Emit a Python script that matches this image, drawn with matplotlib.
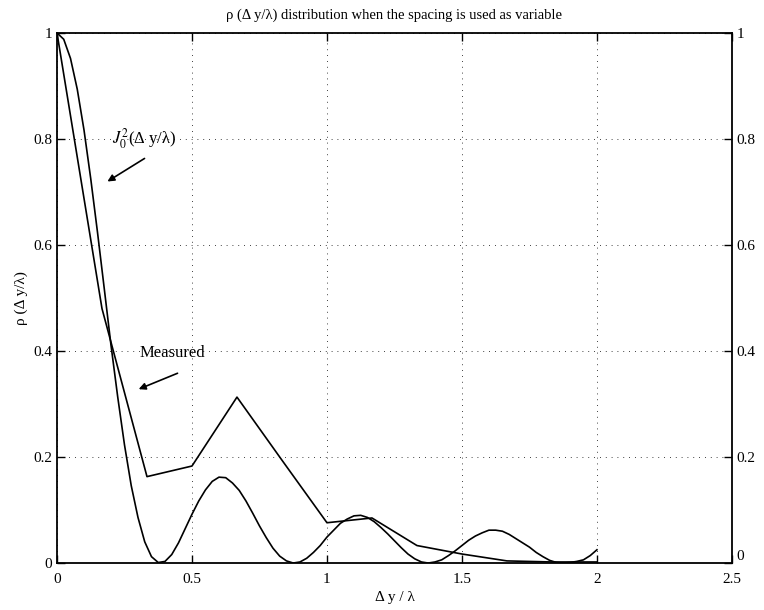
import numpy as np
import matplotlib
matplotlib.use("Agg")
import matplotlib.pyplot as plt

plt.rcParams.update({
    'font.family': ['Liberation Serif', 'DejaVu Serif'],
    'mathtext.fontset': 'stix',
    'font.size': 10,
})

# J0^2 curve at steps of 0.025
j0_x = [i * 0.025 for i in range(81)]
j0_y = [1.000, 0.988, 0.952, 0.894, 0.817, 0.725, 0.624, 0.518, 0.411, 0.313,
        0.223, 0.146, 0.086, 0.040, 0.012, 0.001, 0.003, 0.016, 0.038, 0.065,
        0.092, 0.117, 0.138, 0.154, 0.162, 0.161, 0.151, 0.137, 0.117, 0.094,
        0.070, 0.048, 0.028, 0.013, 0.004, 0.000, 0.002, 0.009, 0.020, 0.033,
        0.049, 0.062, 0.075, 0.083, 0.089, 0.090, 0.086, 0.078, 0.067, 0.055,
        0.042, 0.029, 0.017, 0.008, 0.002, 0.000, 0.002, 0.006, 0.014, 0.023,
        0.033, 0.043, 0.051, 0.057, 0.062, 0.062, 0.060, 0.054, 0.046, 0.038,
        0.030, 0.020, 0.012, 0.005, 0.001, 0.000, 0.001, 0.003, 0.006, 0.014,
        0.025]

# measured values
meas_x = [0, 1/6, 1/3, 1/2, 2/3, 5/6, 1, 7/6, 4/3, 3/2, 5/3, 11/6, 2]
meas_y = [1.0, 0.48, 0.163, 0.183, 0.313, 0.194, 0.076, 0.085, 0.033, 0.017, 0.004, 0.002, 0.002]

xticks = [0, 0.5, 1, 1.5, 2, 2.5]
xtick_labels = ['0', '0.5', '1', '1.5', '2', '2.5']
yticks = [0, 0.2, 0.4, 0.6, 0.8, 1]
ytick_labels = ['0', '0.2', '0.4', '0.6', '0.8', '1']

fig = plt.figure(figsize=(7.64, 6.10), dpi=100)
ax = fig.add_axes((0.0746, 0.077, 0.8834, 0.869))

ax.plot(j0_x, j0_y, color='black', lw=1.2)
ax.plot(meas_x, meas_y, color='black', lw=1.2)

ax.set_xlim(0, 2.5)
ax.set_ylim(0, 1)
ax.set_xticks(xticks)
ax.set_xticklabels(xtick_labels)
ax.set_yticks(yticks)
ax.set_yticklabels(ytick_labels)
ax.tick_params(direction='in', top=True, right=True, labelright=True,
               length=6, width=1, labelsize=11)
ax.tick_params(axis='x', pad=7)
ax.grid(True, color='black', linestyle=(0, (1, 6)), linewidth=0.6)
for s in ax.spines.values():
    s.set_linewidth(1.3)

# right-hand "0" sits a little above the corner, as in the scan
ax.yaxis.get_major_ticks()[0].label2.set_verticalalignment('bottom')

ax.set_title('ρ (Δ y/λ) distribution when the spacing is used as variable',
             fontsize=10.5, pad=10)
ax.set_xlabel('Δ y / λ', fontsize=11, labelpad=4)
ax.set_ylabel('ρ (Δ y/λ)', fontsize=11, labelpad=4)

ax.annotate('', xy=(0.178, 0.717), xytext=(0.333, 0.766),
            arrowprops=dict(arrowstyle='-|>', color='black', lw=1.2,
                            mutation_scale=10))
ax.text(0.205, 0.80, r'$J_0^2$(Δ y/λ)', fontsize=12, va='center', ha='left')
ax.annotate('', xy=(0.293, 0.326), xytext=(0.456, 0.360),
            arrowprops=dict(arrowstyle='-|>', color='black', lw=1.2,
                            mutation_scale=10))
ax.text(0.304, 0.397, 'Measured', fontsize=12, va='center', ha='left')

fig.savefig('out.png', dpi=100)
